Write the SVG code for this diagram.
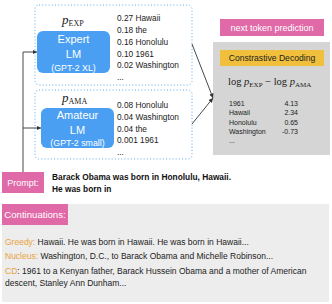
<svg xmlns="http://www.w3.org/2000/svg" width="332" height="304" viewBox="0 0 332 304">
<defs>
<marker id="ah" viewBox="0 0 6 6" refX="6" refY="3" markerWidth="5" markerHeight="5" orient="auto"><path d="M0,0 L6,3 L0,6 z" fill="#333"/></marker>
<style>
.s{font-family:"Liberation Sans",Arial,sans-serif}
.dot{fill:none;stroke:#5aaaf0;stroke-width:1;stroke-dasharray:1 2.2}
.lm{fill:#4a9ff2}
.lmt{fill:#fff;text-anchor:middle;font-family:"Liberation Sans",Arial,sans-serif}
.pr{font-family:"Liberation Sans",Arial,sans-serif;font-size:8.3px;fill:#222}
.pink{fill:#e069a8}
.wt{fill:#fff;font-family:"Liberation Sans",Arial,sans-serif}
.math{font-family:"Liberation Serif","Times New Roman",serif;fill:#222}
.cv{font-family:"Liberation Sans",Arial,sans-serif;font-size:7px;fill:#222}
.ct{font-family:"Liberation Sans",Arial,sans-serif;font-size:8.5px;fill:#222}
.or{fill:#e8a23c}
.conn{fill:none;stroke:#333;stroke-width:0.9}
</style>
</defs>
<g id="expert">
<rect class="dot" x="35" y="5" width="157" height="80" rx="4"/>
<text class="math" x="62" y="24" font-size="13"><tspan font-style="italic">p</tspan><tspan font-size="8" dy="2">EXP</tspan></text>
<rect class="lm" x="37" y="31" width="73" height="42" rx="6"/>
<text class="lmt" x="73.5" y="43" font-size="11">Expert</text>
<text class="lmt" x="73.5" y="57.5" font-size="11">LM</text>
<text class="lmt" x="73.5" y="71" font-size="8.8">(GPT-2 XL)</text>
<text class="pr" x="117" y="21">0.27 Hawaii</text>
<text class="pr" x="117" y="33">0.18 the</text>
<text class="pr" x="117" y="45">0.16 Honolulu</text>
<text class="pr" x="117" y="56.5">0.10 1961</text>
<text class="pr" x="117" y="68">0.02 Washington</text>
<text class="pr" x="117" y="80">...</text>
</g>
<g id="amateur">
<rect class="dot" x="35" y="90" width="157" height="69" rx="4"/>
<text class="math" x="62" y="102" font-size="13"><tspan font-style="italic">p</tspan><tspan font-size="8" dy="2">AMA</tspan></text>
<rect class="lm" x="41" y="108" width="73" height="40" rx="6"/>
<text class="lmt" x="77.5" y="118.5" font-size="11">Amateur</text>
<text class="lmt" x="77.5" y="133.5" font-size="11">LM</text>
<text class="lmt" x="77.5" y="146" font-size="8.8">(GPT-2 small)</text>
<text class="pr" x="117" y="108">0.08 Honolulu</text>
<text class="pr" x="117" y="120">0.04 Washington</text>
<text class="pr" x="117" y="131.5">0.04 the</text>
<text class="pr" x="117" y="143">0.001 1961</text>
<text class="pr" x="117" y="155">...</text>
</g>
<g id="next-token">
<rect class="pink" x="220" y="19" width="104" height="17"/>
<text class="wt" x="272" y="30.5" font-size="9" text-anchor="middle">next token prediction</text>
</g>
<g id="cd">
<rect x="213" y="42" width="117" height="113" fill="#d5d5d5"/>
<rect x="220" y="50" width="104" height="16" fill="#f0c03c"/>
<text class="s" x="272" y="61" font-size="8.6" text-anchor="middle" fill="#222">Constrastive Decoding</text>
<text class="math" x="228" y="85" font-size="10.5">log <tspan font-style="italic">p</tspan><tspan font-size="7" dy="1.5">EXP</tspan><tspan dy="-1.5"> − log </tspan><tspan font-style="italic">p</tspan><tspan font-size="7" dy="1.5">AMA</tspan></text>
<text class="cv" x="229" y="105.5">1961</text>
<text class="cv" x="229" y="115">Hawaii</text>
<text class="cv" x="229" y="124.5">Honolulu</text>
<text class="cv" x="229" y="134">Washington</text>
<text class="cv" x="229" y="142.5">...</text>
<text class="cv" x="298" y="105.5" text-anchor="end">4.13</text>
<text class="cv" x="298" y="115" text-anchor="end">2.34</text>
<text class="cv" x="298" y="124.5" text-anchor="end">0.65</text>
<text class="cv" x="298" y="134" text-anchor="end">-0.73</text>
</g>
<g id="prompt">
<rect class="pink" x="2" y="172" width="42" height="21"/>
<text class="wt" x="23" y="186" font-size="9" text-anchor="middle">Prompt:</text>
<text class="s" x="52" y="180" font-size="8.35" font-weight="bold" fill="#111">Barack Obama was born in Honolulu, Hawaii.</text>
<text class="s" x="52" y="191.5" font-size="8.35" font-weight="bold" fill="#111">He was born in</text>
</g>
<g id="continuations">
<rect x="2" y="204" width="327" height="98" fill="#ededed"/>
<rect class="pink" x="2" y="204" width="66" height="21"/>
<text class="wt" x="35" y="218" font-size="9.6" text-anchor="middle">Continuations:</text>
<text class="ct" x="5" y="245"><tspan class="or">Greedy:</tspan> Hawaii. He was born in Hawaii. He was born in Hawaii...</text>
<text class="ct" x="5" y="259"><tspan class="or">Nucleus:</tspan> Washington, D.C., to Barack Obama and Michelle Robinson...</text>
<text class="ct" x="5" y="274"><tspan class="or">CD</tspan>: 1961 to a Kenyan father, Barack Hussein Obama and a mother of American</text>
<text class="ct" x="5" y="286">descent, Stanley Ann Dunham...</text>
</g>
<g id="connectors">
<path class="conn" d="M23,172 V52 H37" marker-end="url(#ah)"/>
<path class="conn" d="M23,128 H41" marker-end="url(#ah)"/>
<path class="conn" d="M192,44 L213,98" marker-end="url(#ah)"/>
<path class="conn" d="M192,124 L213,98" marker-end="url(#ah)"/>
</g>
</svg>
